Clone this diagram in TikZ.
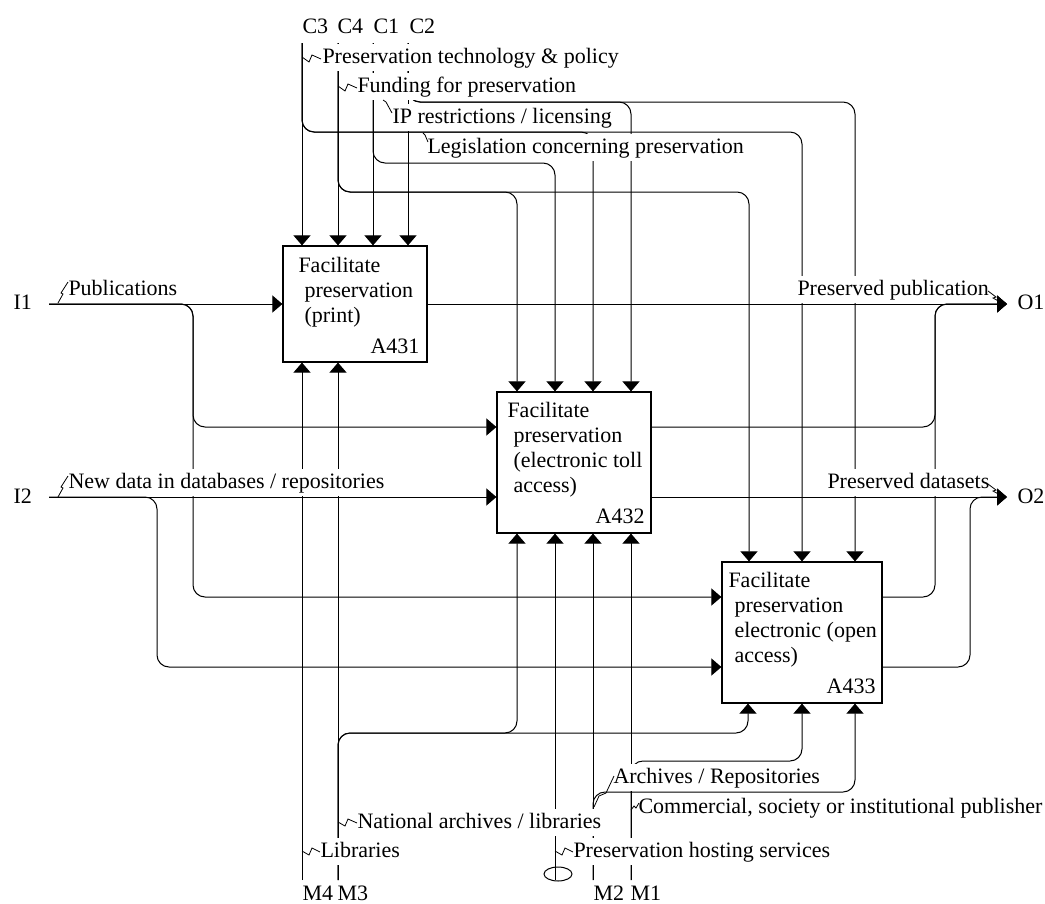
\documentclass[tikz,border=0pt]{standalone}
\usepackage{fontspec}
\setmainfont{Liberation Serif}
\usetikzlibrary{arrows.meta,calc}
\begin{document}
\begin{tikzpicture}[x=1pt,y=-1pt,line width=1pt,
  every node/.style={font=\fontsize{22}{25}\selectfont},
  conn/.style={rounded corners=12pt},
  arr/.style={conn,-{Triangle[length=10pt,width=17pt]}},
  lbl/.style={fill=white,inner xsep=1pt,inner ysep=0pt,text height=19pt,text depth=7.5pt,anchor=base west},
  bnd/.style={inner sep=0pt,anchor=base west},
  boxstyle/.style={draw,line width=1.2pt,fill=white,inner sep=0pt},
  boxtext/.style={anchor=north west,align=left,inner sep=0pt},
  boxnum/.style={anchor=base east,inner sep=0pt},
  zig/.style={line width=0.8pt}]
\useasboundingbox (0,0) rectangle (1045,903);

% activity boxes
\node[boxstyle,minimum width=144pt,minimum height=116pt] (A431) at (355,304) {};
\node[boxstyle,minimum width=154pt,minimum height=141pt] (A432) at (574,462.5) {};
\node[boxstyle,minimum width=160pt,minimum height=141pt] (A433) at (802,632.5) {};

% boundary points
\coordinate (C3) at (302,43);
\coordinate (C4) at (338,43);
\coordinate (C1) at (373,43);
\coordinate (C2) at (408,43);
\coordinate (M4) at (302,880);
\coordinate (M3) at (338,880);
\coordinate (MH) at (555,880);
\coordinate (M2) at (593,880);
\coordinate (M1) at (631,880);
\coordinate (I1) at (49,304);
\coordinate (I2) at (49,497);
\coordinate (O1) at (1007,304);
\coordinate (O2) at (1007,497);
\coordinate (jI1) at (193,304);
\coordinate (jI2) at (157,497);
\coordinate (jO1) at (935,304);
\coordinate (jO2) at (970,497);

% inputs
\draw[arr] (I1) -- (A431.west);
\draw[arr] (I1) -- (jI1) -- (jI1 |- 0,427) -- (A432.west |- 0,427);
\draw[arr] (I1) -- (jI1) -- (jI1 |- 0,597) -- (A433.west |- 0,597);
\draw[arr] (I2) -- (A432.west |- I2);
\draw[arr] (I2) -- (jI2) -- (jI2 |- 0,667) -- (A433.west |- 0,667);

% controls
\draw[arr] (C3) -- (C3 |- A431.north);
\draw[arr] (C3) -- (C3 |- 0,132) -- (593,132) -- (A432.north -| 593,0);
\draw[arr] (C3) -- (C3 |- 0,132) -- (802,132) -- (A433.north -| 802,0);
\draw[arr] (C4) -- (C4 |- A431.north);
\draw[arr] (C4) -- (C4 |- 0,192) -- (517,192) -- (A432.north -| 517,0);
\draw[arr] (C4) -- (C4 |- 0,192) -- (749,192) -- (A433.north -| 749,0);
\draw[arr] (C1) -- (C1 |- A431.north);
\draw[arr] (C1) -- (C1 |- 0,163) -- (555,163) -- (A432.north -| 555,0);
\draw[arr] (C2) -- (C2 |- A431.north);
\draw[arr] (C2) -- (C2 |- 0,102) -- (631,102) -- (A432.north -| 631,0);
\draw[arr] (C2) -- (C2 |- 0,102) -- (855,102) -- (A433.north -| 855,0);

% mechanisms
\draw[arr] (M4) -- (M4 |- A431.south);
\draw[arr] (M3) -- (M3 |- A431.south);
\draw[arr] (M3) -- (M3 |- 0,733) -- (517,733) -- (A432.south -| 517,0);
\draw[arr] (M3) -- (M3 |- 0,733) -- (748,733) -- (A433.south -| 748,0);
\draw[arr] (MH) -- (MH |- A432.south);
\draw[arr] (M2) -- (M2 |- A432.south);
\draw[arr] (M2) -- (M2 |- 0,792) -- (855,792) -- (A433.south -| 855,0);
\draw[arr] (M1) -- (M1 |- A432.south);
\draw[arr] (M1) -- (M1 |- 0,761) -- (802,761) -- (A433.south -| 802,0);

% outputs
\draw[arr] (A431.east) -- (O1);
\draw[arr] (A432.east |- 0,427) -- (jO1 |- 0,427) -- (jO1) -- (O1);
\draw[arr] (A433.east |- 0,597) -- (jO1 |- 0,597) -- (jO1) -- (O1);
\draw[arr] (A432.east |- 0,497) -- (O2);
\draw[arr] (A433.east |- 0,667) -- (jO2 |- 0,667) -- (jO2) -- (O2);

% arrow labels
\node[lbl] (lPT) at (321,63) {Preservation technology \& policy};
\node[lbl] (lFU) at (356,92) {Funding for preservation};
\node[lbl] (lIP) at (391,123) {IP restrictions / licensing};
\node[lbl] (lLE) at (426,153) {Legislation concerning preservation};
\node[lbl] (lPU) at (67,295) {Publications};
\node[lbl] (lND) at (67,488) {New data in databases / repositories};
\node[lbl] (lPP) at (796,295) {Preserved publication};
\node[lbl] (lPD) at (826,488) {Preserved datasets};
\node[lbl] (lNA) at (356,828) {National archives / libraries};
\node[lbl] (lLI) at (319,857) {Libraries};
\node[lbl] (lPH) at (572,857) {Preservation hosting services};
\node[lbl] (lAR) at (612,783) {Archives / Repositories};
\node[lbl] (lCO) at (637,813) {Commercial, society or institutional publisher};

% label leaders
\draw[zig] (302,57) -- (309,62) -- (312,55) -- (321,59);
\draw[zig] (338,86) -- (345,91) -- (348,84) -- (357,88);
\draw[zig] (383,100) -- (386,102) -- (392,113);
\draw[zig] (423,133) -- (425,135) -- (428,142);
\draw[zig] (58,303) -- (63,294) -- (61,293) -- (68,282);
\draw[zig] (58,497) -- (63,488) -- (61,487) -- (68,476);
\draw[zig] (988,291) -- (996,297) -- (993,298) -- (1002,303);
\draw[zig] (988,484) -- (996,490) -- (993,491) -- (1002,496);
\draw[zig] (338,822) -- (345,826) -- (348,819) -- (357,823);
\draw[zig] (302,851) -- (309,855) -- (312,848) -- (320,852);
\draw[zig] (555,851) -- (562,855) -- (565,848) -- (573,852);
\draw[zig] (594,807) -- (599,796) -- (606,793) -- (614,776);
\draw[zig] (631,810) -- (634,806) -- (636,808) -- (639,803);

% tunnel mark
\draw (558,874) ellipse [x radius=14, y radius=7];

% boundary labels
\node[bnd] (tC3) at (302,33) {C3};
\node[bnd] (tC4) at (337,33) {C4};
\node[bnd] (tC1) at (373,33) {C1};
\node[bnd] (tC2) at (409,33) {C2};
\node[bnd] (tM4) at (302,900) {M4};
\node[bnd] (tM3) at (337,900) {M3};
\node[bnd] (tM2) at (593,900) {M2};
\node[bnd] (tM1) at (630,900) {M1};
\node[bnd] (tI1) at (13,309) {I1};
\node[bnd] (tI2) at (13,503) {I2};
\node[bnd] (tO1) at (1017,309) {O1};
\node[bnd] (tO2) at (1017,503) {O2};

% box texts
\node[boxtext] (x431) at (298,257) {Facilitate\\\hspace*{6pt}preservation\\\hspace*{6pt}(print)};
\node[boxnum] (n431) at (420,353) {A431};
\node[boxtext] (x432) at (507,402) {Facilitate\\\hspace*{6pt}preservation\\\hspace*{6pt}(electronic toll\\\hspace*{6pt}access)};
\node[boxnum] (n432) at (645,523) {A432};
\node[boxtext] (x433) at (728,572) {Facilitate\\\hspace*{6pt}preservation\\\hspace*{6pt}electronic (open\\\hspace*{6pt}access)};
\node[boxnum] (n433) at (876,693) {A433};
\end{tikzpicture}
\end{document}
